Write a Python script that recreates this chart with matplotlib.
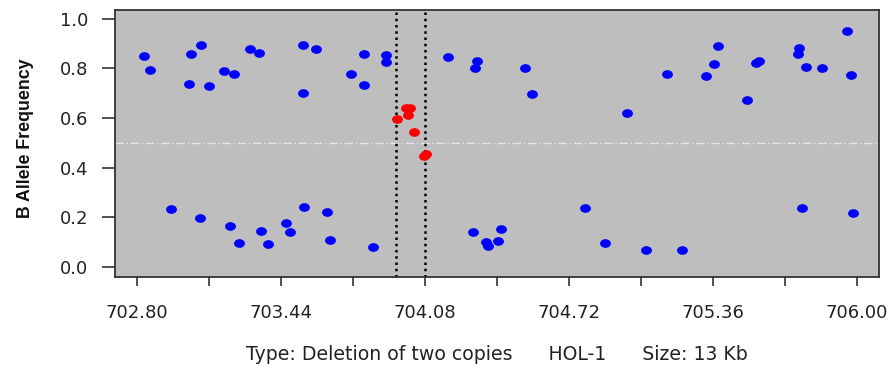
import numpy as np
import matplotlib
matplotlib.use("Agg")
import matplotlib.pyplot as plt
from matplotlib.path import Path
from matplotlib.markers import MarkerStyle
from matplotlib.transforms import Affine2D

# ---- data ----
blue_pos = [702.83, 702.86, 702.95, 703.03, 703.04, 703.086, 703.08, 703.123, 703.188, 703.212,
            703.233, 703.254, 703.303, 703.345, 703.353, 703.381, 703.464, 703.483, 703.537, 703.537,
            703.543, 703.598, 703.647, 703.657, 703.752, 703.808, 703.808, 703.850, 703.909, 703.909,
            704.182, 704.312, 704.303, 704.292, 704.354, 704.360, 704.407, 704.419, 704.527, 704.557,
            704.790, 704.880, 704.977, 705.061, 705.156, 705.223, 705.329, 705.365, 705.384, 705.510,
            705.550, 705.565, 705.737, 705.743, 705.774, 705.755, 705.845, 705.958, 705.972, 705.981]
blue_baf = [0.852, 0.795, 0.234, 0.739, 0.857, 0.895, 0.198, 0.730, 0.791, 0.164,
            0.777, 0.094, 0.880, 0.862, 0.143, 0.090, 0.175, 0.141, 0.895, 0.701,
            0.241, 0.880, 0.222, 0.109, 0.777, 0.857, 0.735, 0.080, 0.853, 0.826,
            0.848, 0.829, 0.800, 0.139, 0.101, 0.085, 0.105, 0.152, 0.800, 0.697,
            0.236, 0.094, 0.622, 0.067, 0.778, 0.067, 0.771, 0.816, 0.891, 0.673,
            0.820, 0.830, 0.857, 0.882, 0.806, 0.237, 0.801, 0.952, 0.773, 0.217]
red_pos = [703.957, 703.998, 704.013, 704.004, 704.031, 704.078, 704.087]
red_baf = [0.595, 0.642, 0.642, 0.612, 0.543, 0.448, 0.454]
cnv_bounds = [703.953, 704.080]
x_ticks = [702.80, 703.12, 703.44, 703.76, 704.08, 704.40, 704.72, 705.04, 705.36, 705.68, 706.00]
x_labels = ["702.80", "", "703.44", "", "704.08", "", "704.72", "", "705.36", "", "706.00"]
y_ticks = [0.0, 0.2, 0.4, 0.6, 0.8, 1.0]
y_labels = ["0.0", "0.2", "0.4", "0.6", "0.8", "1.0"]
caption = "Type: Deletion of two copies      HOL-1      Size: 13 Kb"

# ---- figure ----
fig = plt.figure(figsize=(8.94, 3.71), dpi=100)
ax = fig.add_axes([115 / 894, 1 - 277 / 371, (879.3 - 115) / 894, (277 - 9.5) / 371])
ax.set_facecolor("#bebebe")

# slightly wide elliptical dot
ell = Path.unit_circle().transformed(Affine2D().scale(1.3, 1.0))
mk = MarkerStyle(ell)

ax.axhline(0.5, color="#e6e6e6", lw=1.0, ls=(0, (6, 2, 1, 2)), zorder=1)
for b in cnv_bounds:
    ax.axvline(b, color="black", lw=1.8, ls=(0, (1, 1.5)), zorder=2)
ax.plot(blue_pos, blue_baf, ls="none", marker=mk, ms=6.8, color="#0000ff", mec="#0000ff", zorder=3)
ax.plot(red_pos, red_baf, ls="none", marker=mk, ms=6.8, color="#ff0000", mec="#ff0000", zorder=3)

ax.set_xlim(702.703, 706.10)
ax.set_ylim(-0.042, 1.038)

ax.set_xticks(x_ticks)
ax.set_xticklabels(x_labels, family="DejaVu Sans", fontsize=13, color="#222222")
ax.set_yticks(y_ticks)
ax.set_yticklabels(y_labels, family="DejaVu Sans", fontsize=13, color="#222222")
ax.tick_params(axis="x", length=6.5, width=1.2, pad=13, color="#333333")
ax.tick_params(axis="y", length=9.4, width=1.2, pad=10, color="#333333")

for s in ax.spines.values():
    s.set_color("#333333")
    s.set_linewidth(1.3)

ax.set_ylabel("B Allele Frequency", family="Liberation Sans", fontweight="bold",
              fontsize=12.8, va="center", color="#111111")
ax.yaxis.set_label_coords(-0.117, 0.52)

fig.text(496.5 / 894, 1 - 355 / 371, caption, family="DejaVu Sans", fontsize=13.6,
         ha="center", va="center", color="#222222")

fig.savefig("out.png", dpi=100)
